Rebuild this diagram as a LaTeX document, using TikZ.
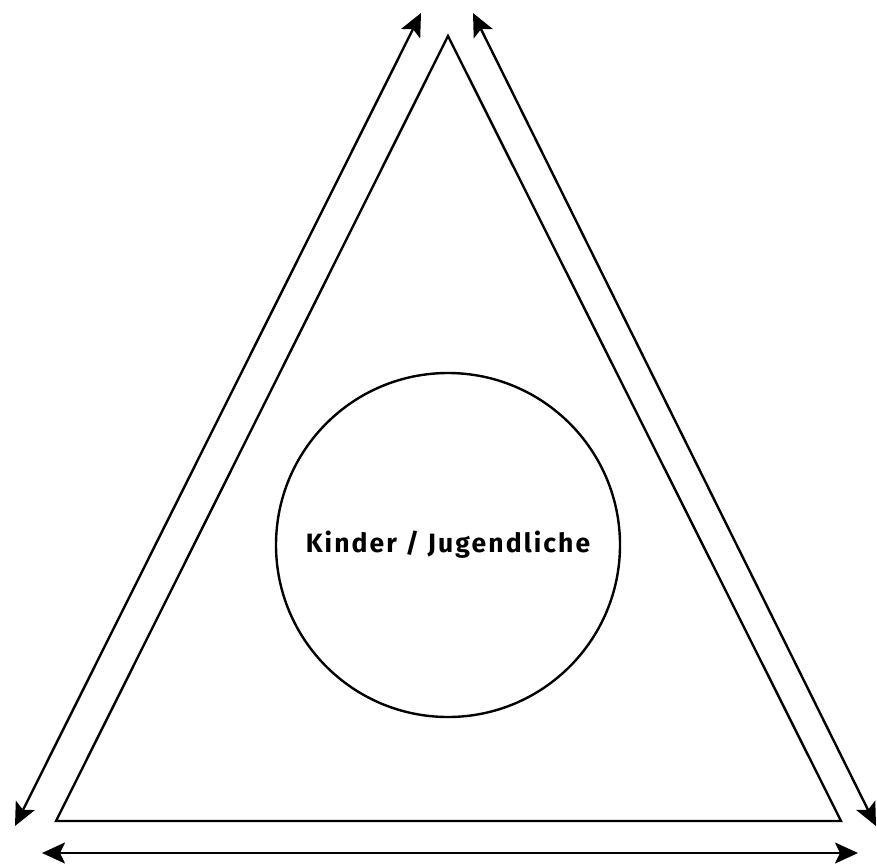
\documentclass[tikz,border=0pt]{standalone}
\usepackage{fontspec}
\newfontfamily\labelfont[LetterSpace=8]{Fira Sans}
\usetikzlibrary{arrows.meta}

\begin{document}
\begin{tikzpicture}[
  x=1pt,y=-1pt,
  edge/.style={line width=2.4pt,line join=miter},
  arr/.style={{Stealth[length=23pt,width=21pt,inset=5pt]}-{Stealth[length=23pt,width=21pt,inset=5pt]},line width=2.4pt},
  kreis/.style={circle,draw,line width=2.4pt,minimum size=344pt,inner sep=0pt}
]
  \useasboundingbox (0,0) rectangle (877,864);
  % triangle
  \coordinate (top) at (448,36);
  \coordinate (bl)  at (56,821);
  \coordinate (br)  at (841,821);
  \draw[edge] (top) -- (bl) -- (br) -- cycle;

  \node[kreis] (kids) at (448,545)
    {\labelfont\bfseries\fontsize{26.5}{30}\selectfont Kinder / Jugendliche};

  % arrows along the sides
  \coordinate (lt) at (421,13);
  \coordinate (lb) at (15,826);
  \coordinate (rt) at (473,13);
  \coordinate (rb) at (876,826);
  \coordinate (bw) at (42,853);
  \coordinate (be) at (858,853);
  \draw[arr] (lb) -- (lt);
  \draw[arr] (rb) -- (rt);
  \draw[arr] (bw) -- (be);
\end{tikzpicture}
\end{document}
